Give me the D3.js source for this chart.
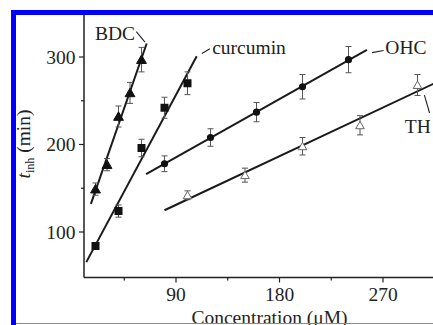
<!DOCTYPE html>
<html>
<head>
<meta charset="utf-8">
<script src="https://cdn.jsdelivr.net/npm/d3@7"></script>
<style>
  html, body { margin: 0; padding: 0; background: #fff; }
  svg { display: block; }
  text { font-family: "Liberation Serif", "DejaVu Serif", serif; fill: #222; }
</style>
</head>
<body>
<svg id="chart" width="433" height="325"></svg>
<script>
// concentration (uM) / t_inh (min) / error
const bdcX = [20, 30, 40, 50, 60];
const bdcY = [149, 177, 232, 259, 297];
const bdcErr = [7, 7, 12, 12, 14];

const curX = [20, 40, 60, 80, 100];
const curY = [84, 124, 196, 242, 270];
const curErr = [4, 7, 10, 12, 13];

const ohcX = [80, 120, 160, 200, 240];
const ohcY = [178, 208, 237, 266, 297];
const ohcErr = [9, 10, 11, 14, 15];

const thX = [100, 150, 200, 250, 300];
const thY = [142, 165, 198, 222, 268];
const thErr = [5, 8, 10, 11, 12];

const xTicks = [90, 180, 270];
const xMinor = [45, 135, 225];
const yTicks = [100, 200, 300];
const yMinor = [150, 250];

const series = [
  { name: "BDC", x: bdcX, y: bdcY, err: bdcErr, marker: "triUp", fit: [16, 64.5],
    label: [19.6, 319], leader: [[55.5, 329], [63, 317]] },
  { name: "curcumin", x: curX, y: curY, err: curErr, marker: "square", fit: [12, 108],
    label: [121.5, 304], leader: [[112.5, 304], [119.5, 309.5]] },
  { name: "OHC", x: ohcX, y: ohcY, err: ohcErr, marker: "circle", fit: [64, 256],
    label: [272, 304], leader: [[260.5, 305], [270.5, 307.5]] },
  { name: "TH", x: thX, y: thY, err: thErr, marker: "triOpen", fit: [80, 320],
    label: [289, 213.5], leader: [[306, 256.5], [310.5, 236]] },
];

const svg = d3.select("#chart");
const x = d3.scaleLinear().domain([10, 314]).range([84, 433.6]);
const y = d3.scaleLinear().domain([48, 348]).range([277.5, 15]);

// axes
const xAxis = svg.append("g").attr("transform", "translate(0,277.5)");
xAxis.append("line").attr("x1", x(10)).attr("x2", 433).attr("stroke", "#222").attr("stroke-width", 1.5);
xAxis.selectAll(".maj").data(xTicks).enter().append("line")
  .attr("x1", (d) => x(d)).attr("x2", (d) => x(d)).attr("y1", 0).attr("y2", 5)
  .attr("stroke", "#222").attr("stroke-width", 1.2);
xAxis.selectAll(".min").data(xMinor).enter().append("line")
  .attr("x1", (d) => x(d)).attr("x2", (d) => x(d)).attr("y1", 0).attr("y2", 3)
  .attr("stroke", "#222").attr("stroke-width", 1.2);
xAxis.selectAll("text").data(xTicks).enter().append("text")
  .attr("x", (d) => x(d)).attr("y", 23.5).attr("text-anchor", "middle")
  .attr("font-size", 19.5).text((d) => d);

const yAxis = svg.append("g").attr("transform", "translate(84,0)");
yAxis.append("line").attr("y1", 15).attr("y2", 277.5).attr("stroke", "#222").attr("stroke-width", 1.5);
yAxis.selectAll(".maj").data(yTicks).enter().append("line")
  .attr("y1", (d) => y(d)).attr("y2", (d) => y(d)).attr("x1", 0).attr("x2", -5)
  .attr("stroke", "#222").attr("stroke-width", 1.2);
yAxis.selectAll(".min").data(yMinor).enter().append("line")
  .attr("y1", (d) => y(d)).attr("y2", (d) => y(d)).attr("x1", 0).attr("x2", -3)
  .attr("stroke", "#222").attr("stroke-width", 1.2);
yAxis.selectAll("text").data(yTicks).enter().append("text")
  .attr("x", -8.5).attr("y", (d) => y(d)).attr("dy", "0.34em").attr("text-anchor", "end")
  .attr("font-size", 19.5).text((d) => d);

// axis titles
const yTitle = svg.append("text")
  .attr("transform", "translate(30,144) rotate(-90)")
  .attr("text-anchor", "middle").attr("font-size", 19.5);
yTitle.append("tspan").attr("font-style", "italic").text("t");
yTitle.append("tspan").attr("font-size", 12).attr("dy", 4).text("inh");
yTitle.append("tspan").attr("dy", -4).text(" (min)");

svg.append("text").attr("x", 269.5).attr("y", 324).attr("text-anchor", "middle")
  .attr("font-size", 19.5).text("Concentration (\u03bcM)");

// linear fit from the data
function fit(xs, ys) {
  const mx = d3.mean(xs), my = d3.mean(ys);
  let sxy = 0, sxx = 0;
  xs.forEach((v, i) => { sxy += (v - mx) * (ys[i] - my); sxx += (v - mx) ** 2; });
  const k = sxy / sxx;
  return (v) => my + k * (v - mx);
}

const plot = svg.append("g");
series.forEach((s) => {
  const f = fit(s.x, s.y);
  plot.append("line")
    .attr("x1", x(s.fit[0])).attr("y1", y(f(s.fit[0])))
    .attr("x2", x(s.fit[1])).attr("y2", y(f(s.fit[1])))
    .attr("stroke", "#1a1a1a").attr("stroke-width", 2);

  const pts = s.x.map((v, i) => ({ x: v, y: s.y[i], e: s.err[i] }));
  const eb = plot.append("g").attr("stroke", "#555").attr("stroke-width", 1);
  pts.forEach((p) => {
    const cx = x(p.x);
    eb.append("line").attr("x1", cx).attr("x2", cx).attr("y1", y(p.y - p.e)).attr("y2", y(p.y + p.e));
    eb.append("line").attr("x1", cx - 3).attr("x2", cx + 3).attr("y1", y(p.y - p.e)).attr("y2", y(p.y - p.e));
    eb.append("line").attr("x1", cx - 3).attr("x2", cx + 3).attr("y1", y(p.y + p.e)).attr("y2", y(p.y + p.e));
  });

  const m = plot.selectAll(null).data(pts).enter();
  if (s.marker === "square") {
    m.append("rect").attr("x", (d) => x(d.x) - 4).attr("y", (d) => y(d.y) - 4)
      .attr("width", 8).attr("height", 8).attr("fill", "#111");
  } else if (s.marker === "circle") {
    m.append("circle").attr("cx", (d) => x(d.x)).attr("cy", (d) => y(d.y)).attr("r", 3.6).attr("fill", "#111");
  } else {
    const open = s.marker === "triOpen";
    const sym = d3.symbol().type(d3.symbolTriangle).size(open ? 32 : 42);
    m.append("path").attr("d", sym)
      .attr("transform", (d) => `translate(${x(d.x)},${y(d.y) + 1})`)
      .attr("fill", open ? "#fff" : "#111")
      .attr("stroke", open ? "#666" : "#111").attr("stroke-width", 1);
  }

  svg.append("line")
    .attr("x1", x(s.leader[0][0])).attr("y1", y(s.leader[0][1]))
    .attr("x2", x(s.leader[1][0])).attr("y2", y(s.leader[1][1]))
    .attr("stroke", "#222").attr("stroke-width", 1.1);
  svg.append("text").attr("x", x(s.label[0])).attr("y", y(s.label[1]))
    .attr("font-size", 19.5).text(s.name);
});

// blue frame
svg.append("rect").attr("x", 11).attr("y", 10).attr("width", 422).attr("height", 5).attr("fill", "#0000ff");
svg.append("rect").attr("x", 11).attr("y", 10).attr("width", 5).attr("height", 315).attr("fill", "#0000ff");
svg.append("rect").attr("x", 16).attr("y", 323).attr("width", 417).attr("height", 1).attr("fill", "#7b7bff");
</script>
</body>
</html>
